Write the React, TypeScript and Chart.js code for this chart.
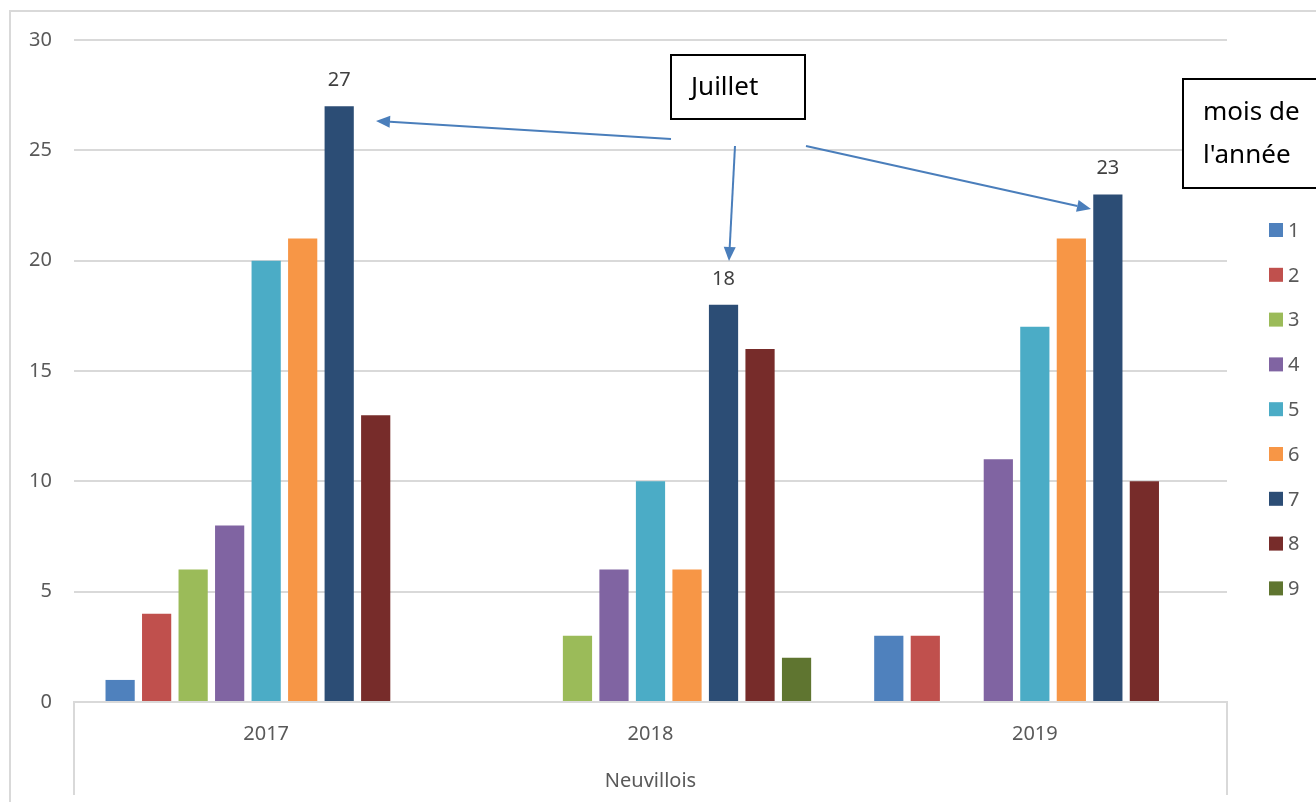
import React, { useEffect, useRef } from "react";
import { Chart, registerables } from "chart.js";

Chart.register(...registerables);

const categories = ["2017", "2018", "2019"];
const seriesNames = ["1", "2", "3", "4", "5", "6", "7", "8", "9"];
const m1 = [1, 0, 3];
const m2 = [4, 0, 3];
const m3 = [6, 3, 0];
const m4 = [8, 6, 11];
const m5 = [20, 10, 17];
const m6 = [21, 6, 21];
const m7 = [27, 18, 23];
const m8 = [13, 16, 10];
const m9 = [0, 2, 0];
const seriesValues = [m1, m2, m3, m4, m5, m6, m7, m8, m9];
const seriesColors = ["#4f81bd", "#c0504d", "#9bbb59", "#8064a2", "#4bacc6", "#f79646", "#2c4d75", "#772c2a", "#5f7530"];
const labelledSeries = 6;
const axisTitle = "Neuvillois";
const calloutText = "Juillet";
const legendTitle = ["mois de", "l'année"];

const FONT = "'Noto Sans', 'Open Sans', sans-serif";

function arrow(ctx: CanvasRenderingContext2D, x1: number, y1: number, x2: number, y2: number) {
  const ang = Math.atan2(y2 - y1, x2 - x1);
  const len = 14, hw = 6;
  const bx = x2 - len * Math.cos(ang), by = y2 - len * Math.sin(ang);
  ctx.save();
  ctx.strokeStyle = "#4a7ebb";
  ctx.fillStyle = "#4a7ebb";
  ctx.lineWidth = 2;
  ctx.beginPath();
  ctx.moveTo(x1, y1);
  ctx.lineTo(bx, by);
  ctx.stroke();
  ctx.beginPath();
  ctx.moveTo(x2, y2);
  ctx.lineTo(bx + hw * Math.sin(ang), by - hw * Math.cos(ang));
  ctx.lineTo(bx - hw * Math.sin(ang), by + hw * Math.cos(ang));
  ctx.closePath();
  ctx.fill();
  ctx.restore();
}

const decorPlugin = {
  id: "decor",
  afterDatasetsDraw(chart: any) {
    const ctx = chart.ctx as CanvasRenderingContext2D;
    const area = chart.chartArea;
    ctx.save();
    // outer border
    ctx.strokeStyle = "#d9d9d9";
    ctx.lineWidth = 2;
    ctx.beginPath();
    ctx.moveTo(10, 802);
    ctx.lineTo(10, 11);
    ctx.lineTo(1316, 11);
    ctx.stroke();
    // x axis side lines
    ctx.lineWidth = 2;
    ctx.beginPath();
    ctx.moveTo(area.left, area.bottom);
    ctx.lineTo(area.left, 795);
    ctx.moveTo(area.right, area.bottom);
    ctx.lineTo(area.right, 795);
    ctx.stroke();

    // data labels for July
    const meta = chart.getDatasetMeta(labelledSeries);
    ctx.fillStyle = "#404040";
    ctx.font = `20px ${FONT}`;
    ctx.textAlign = "center";
    ctx.textBaseline = "middle";
    meta.data.forEach((el: any, i: number) => {
      const v = seriesValues[labelledSeries][i];
      if (!v) return;
      ctx.fillText(String(v), el.x, el.y - 26);
    });

    // callout box
    ctx.fillStyle = "#ffffff";
    ctx.fillRect(671, 55, 134, 64);
    ctx.strokeStyle = "#000000";
    ctx.lineWidth = 2;
    ctx.strokeRect(671, 55, 134, 64);
    ctx.fillStyle = "#000000";
    ctx.font = `26px ${FONT}`;
    ctx.textAlign = "left";
    ctx.fillText(calloutText, 691, 88);

    arrow(ctx, 671, 139, 376, 121);
    arrow(ctx, 735, 146, 729, 261);
    arrow(ctx, 806, 146, 1091, 209);

    // legend title box
    ctx.fillStyle = "#ffffff";
    ctx.fillRect(1183, 79, 140, 109);
    ctx.strokeStyle = "#000000";
    ctx.strokeRect(1183, 79, 140, 109);
    ctx.fillStyle = "#000000";
    ctx.font = `26px ${FONT}`;
    ctx.fillText(legendTitle[0], 1203, 113);
    ctx.fillText(legendTitle[1], 1203, 156);

    // legend
    ctx.font = `20px ${FONT}`;
    seriesNames.forEach((name, i) => {
      const cy = 230 + i * 44.8;
      ctx.fillStyle = seriesColors[i];
      ctx.fillRect(1269, cy - 7, 14, 14);
      ctx.fillStyle = "#595959";
      ctx.fillText(name, 1288, cy + 1);
    });
    ctx.restore();
  },
};

export default function App() {
  const ref = useRef<HTMLCanvasElement | null>(null);
  useEffect(() => {
    if (!ref.current) return;
    const chart = new Chart(ref.current, {
      type: "bar",
      data: {
        labels: categories,
        datasets: seriesNames.map((n, i) => ({
          label: n,
          data: seriesValues[i],
          backgroundColor: seriesColors[i],
          borderWidth: 0,
          barPercentage: 0.8,
          categoryPercentage: 0.855,
        })),
      },
      options: {
        animation: false,
        responsive: false,
        maintainAspectRatio: false,
        layout: { padding: { top: 40, right: 89, left: 0, bottom: 0 } },
        plugins: { legend: { display: false }, tooltip: { enabled: false } },
        scales: {
          x: {
            grid: { display: false, drawTicks: false },
            border: { display: true, color: "#d9d9d9", width: 2 },
            ticks: { color: "#595959", font: { family: FONT, size: 20 }, padding: 20 },
            title: { display: true, text: axisTitle, color: "#595959", font: { family: FONT, size: 20 }, padding: { top: 9, bottom: 9 } },
            afterFit: (s: any) => { s.height = 100; },
          },
          y: {
            min: 0,
            max: 30,
            ticks: { stepSize: 5, color: "#595959", font: { family: FONT, size: 20 }, padding: 22 },
            grid: { color: "#d9d9d9", lineWidth: 2, drawTicks: false },
            border: { display: false },
            afterFit: (s: any) => { s.width = 74; },
          },
        },
      },
      plugins: [decorPlugin],
    });
    return () => chart.destroy();
  }, []);
  return (
    <div style={{ position: "fixed", left: 0, top: 0, width: 1316, height: 802, background: "#fff" }}>
      <canvas ref={ref} width={1316} height={802} style={{ width: 1316, height: 802 }} />
    </div>
  );
}
